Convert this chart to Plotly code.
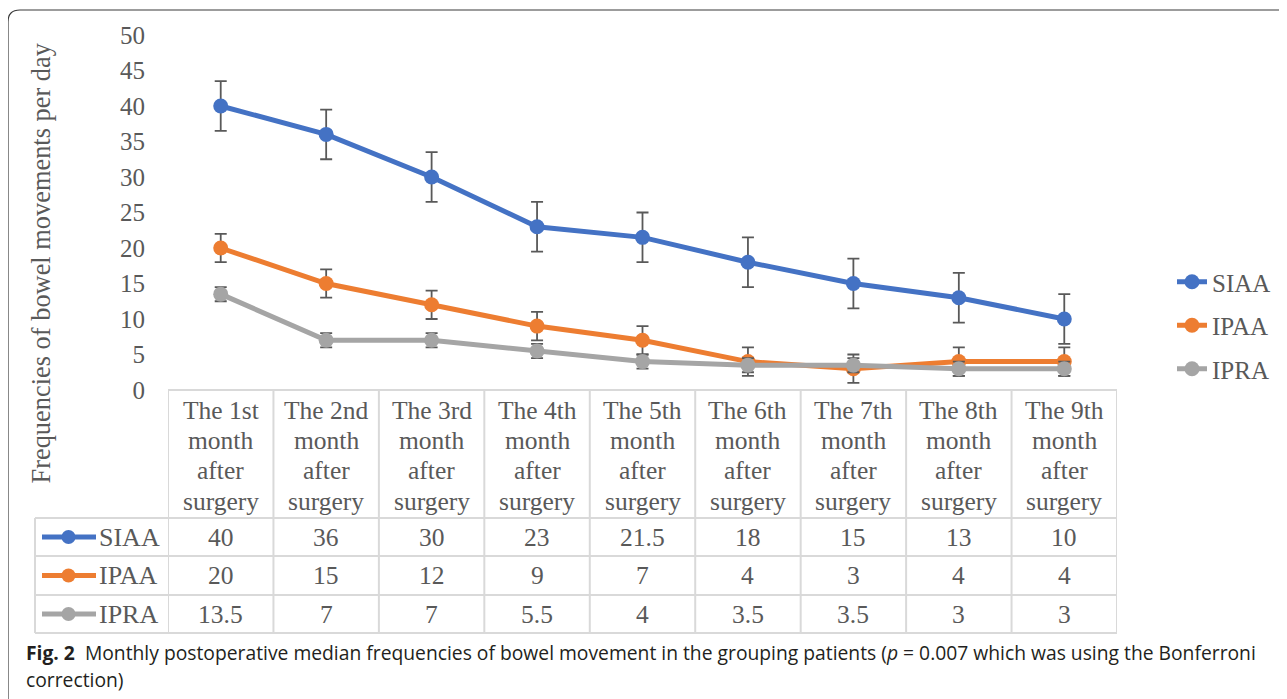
import plotly.graph_objects as go

# ---------------- data ----------------
categories = ["The 1st month after surgery", "The 2nd month after surgery",
              "The 3rd month after surgery", "The 4th month after surgery",
              "The 5th month after surgery", "The 6th month after surgery",
              "The 7th month after surgery", "The 8th month after surgery",
              "The 9th month after surgery"]
category_labels = ["The 1st<br>month<br>after<br>surgery", "The 2nd<br>month<br>after<br>surgery",
                   "The 3rd<br>month<br>after<br>surgery", "The 4th<br>month<br>after<br>surgery",
                   "The 5th<br>month<br>after<br>surgery", "The 6th<br>month<br>after<br>surgery",
                   "The 7th<br>month<br>after<br>surgery", "The 8th<br>month<br>after<br>surgery",
                   "The 9th<br>month<br>after<br>surgery"]
series_names = ["SIAA", "IPAA", "IPRA"]
siaa = [40, 36, 30, 23, 21.5, 18, 15, 13, 10]
ipaa = [20, 15, 12, 9, 7, 4, 3, 4, 4]
ipra = [13.5, 7, 7, 5.5, 4, 3.5, 3.5, 3, 3]
siaa_err = [3.5, 3.5, 3.5, 3.5, 3.5, 3.5, 3.5, 3.5, 3.5]
ipaa_err = [2, 2, 2, 2, 2, 2, 2, 2, 2]
ipra_err = [1, 1, 1, 1, 1, 1, 1, 1, 1]
y_ticks = [0, 5, 10, 15, 20, 25, 30, 35, 40, 45, 50]
y_title = "Frequencies of bowel movements per day"
caption_1 = ("<b>Fig. 2</b>\u00a0\u00a0Monthly postoperative median frequencies of bowel movement "
             "in the grouping patients (<i>p</i> = 0.007 which was using the Bonferroni")
caption_2 = "correction)"

colors = ["#4472C4", "#ED7D31", "#A5A5A5"]
values = [siaa, ipaa, ipra]
errors = [siaa_err, ipaa_err, ipra_err]

# ---------------- layout geometry ----------------
# The page body has an 8px margin, so the figure is 8px smaller.  The plot
# area spans almost the full width (so the legend sits inside it and does not
# push the margins); the x axis only uses part of that area via its domain.
W, H = 1279, 691
L, T, R = 160, 27, 10
PWF = W - L - R          # full paper width (1109)
AXW = 949                # width of the x axis (table / chart columns)
PH = 355
B = H - T - PH
SERIF = "Liberation Serif, Times New Roman, serif"
GRAY_TXT = "#595959"
GRID = "#d9d9d9"


def px(x):
    return (x - 168) / PWF


def py(y):
    return (390 - y) / PH


X_END = px(168 + AXW)

fig = go.Figure()
for name, vals, errs, col in zip(series_names, values, errors, colors):
    fig.add_trace(go.Scatter(
        x=categories, y=vals, name=name, mode="lines+markers",
        line=dict(color=col, width=5),
        marker=dict(color=col, size=15),
        error_y=dict(type="data", array=errs, visible=True,
                     color="#595959", thickness=1.8, width=6),
        legendgroup=name,
    ))

shapes = []
annotations = []

# table lines
row_tops = [518, 556, 595, 633]
shapes.append(dict(type="line", xref="paper", yref="paper", x0=0, x1=X_END, y0=0, y1=0,
                   line=dict(color=GRID, width=2), layer="below"))
for yy in row_tops:
    shapes.append(dict(type="line", xref="paper", yref="paper", x0=px(35), x1=X_END,
                       y0=py(yy), y1=py(yy), line=dict(color=GRID, width=2), layer="below"))
for i in range(len(categories) + 1):
    shapes.append(dict(type="line", xref="x", yref="paper", x0=i - 0.5, x1=i - 0.5,
                       y0=0, y1=py(633), line=dict(color=GRID, width=2), layer="below"))
shapes.append(dict(type="line", xref="paper", yref="paper", x0=px(35), x1=px(35),
                   y0=py(518), y1=py(633), line=dict(color=GRID, width=2), layer="below"))

# header labels (one annotation per text line for Excel-like line spacing)
line_centers = [410, 440.5, 471, 501.5]
for i, lab in enumerate(category_labels):
    for part, yc in zip(lab.split("<br>"), line_centers):
        annotations.append(dict(x=i, y=py(yc), xref="x", yref="paper", text=part,
                                showarrow=False, font=dict(family=SERIF, size=25.5, color=GRAY_TXT),
                                align="center", yanchor="middle"))

# table rows
row_centers = [537, 575.5, 614]
for name, vals, col, yc in zip(series_names, values, colors, row_centers):
    shapes.append(dict(type="line", xref="paper", yref="paper", x0=px(42), x1=px(96),
                       y0=py(yc), y1=py(yc), line=dict(color=col, width=5)))
    shapes.append(dict(type="circle", xref="paper", yref="paper",
                       x0=px(68.5 - 7), x1=px(68.5 + 7), y0=py(yc + 7), y1=py(yc - 7),
                       fillcolor=col, line=dict(color=col, width=0)))
    annotations.append(dict(x=px(97), y=py(yc), xref="paper", yref="paper", text=name,
                            showarrow=False, xanchor="left", yanchor="middle",
                            font=dict(family=SERIF, size=26, color=GRAY_TXT)))
    for i, v in enumerate(vals):
        annotations.append(dict(x=i, y=py(yc), xref="x", yref="paper", text=f"{v:g}",
                                showarrow=False, yanchor="middle",
                                font=dict(family=SERIF, size=25.5, color=GRAY_TXT)))

# y-axis title
annotations.append(dict(x=px(40), y=py(263.5), xref="paper", yref="paper", text=y_title,
                        textangle=-90, showarrow=False, xanchor="center", yanchor="middle",
                        font=dict(family=SERIF, size=26.4, color=GRAY_TXT)))

# caption
annotations.append(dict(x=px(24), y=py(652), xref="paper", yref="paper", text=caption_1,
                        showarrow=False, xanchor="left", yanchor="middle",
                        font=dict(family="Open Sans, sans-serif", size=19.3, color="#231f20")))
annotations.append(dict(x=px(24), y=py(679), xref="paper", yref="paper", text=caption_2,
                        showarrow=False, xanchor="left", yanchor="middle",
                        font=dict(family="Open Sans, sans-serif", size=19.3, color="#231f20")))

# outer rounded frame
path = (f"M {px(8)},{py(705)} L {px(8)},{py(22)} Q {px(8)},{py(10)} {px(20)},{py(10)} "
        f"L {px(1300)},{py(10)}")
shapes.append(dict(type="path", xref="paper", yref="paper", path=path,
                   line=dict(color="#3a3a3a", width=1.2)))

fig.update_layout(
    width=W, height=H, autosize=False,
    margin=dict(l=L, r=R, t=T, b=B, pad=0),
    paper_bgcolor="white", plot_bgcolor="white",
    shapes=shapes, annotations=annotations,
    xaxis=dict(type="category", range=[-0.5, 8.5], domain=[0, X_END],
               showticklabels=False, showgrid=False,
               zeroline=False, showline=False, ticks=""),
    yaxis=dict(range=[0, 50], tickvals=y_ticks, showgrid=False, zeroline=False,
               showline=False, ticks="outside", ticklen=17, tickcolor="rgba(0,0,0,0)",
               tickfont=dict(family=SERIF, size=25, color=GRAY_TXT)),
    legend=dict(x=px(1172), y=py(259), xanchor="left", yanchor="top",
                font=dict(family=SERIF, size=25, color=GRAY_TXT),
                traceorder="grouped", tracegroupgap=8, bgcolor="rgba(0,0,0,0)"),
    showlegend=True,
)

fig.write_html("out.html")
